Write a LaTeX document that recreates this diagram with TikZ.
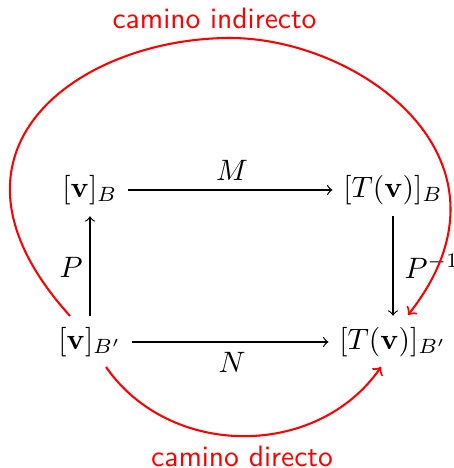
\documentclass[tikz,border=0pt]{standalone}
\usepackage{amsmath}
\begin{document}
\begin{tikzpicture}[x=0.339pt,y=-0.339pt,
  obj/.style={inner xsep=3.5pt, inner ysep=3.7pt},
  lab/.style={inner sep=0pt},
  redpath/.style={red, line width=0.7pt, ->},
  redlab/.style={red, font=\sffamily, inner sep=0pt}]
\useasboundingbox (0,0) rectangle (454,468);
\node[obj] (vB) at (90,190) {$[\mathbf{v}]_B$};
\node[obj] (TB) at (393,190) {$[T(\mathbf{v})]_B$};
\node[obj] (vBp) at (90,342) {$[\mathbf{v}]_{B'}$};
\node[obj] (TBp) at (393,342) {$[T(\mathbf{v})]_{B'}$};
\draw[->] (vB) -- (TB);
\draw[->] (vBp) -- (TBp);
\draw[->] (vBp) -- (vB);
\draw[->] (TB) -- (TBp);
\node[lab, anchor=base] (M) at (232,180) {$M$};
\node[lab, anchor=base] (N) at (232,372) {$N$};
\node[lab, anchor=base west] (P) at (59,277) {$P$};
\node[lab, anchor=base west] (Pi) at (404,278) {$P^{-1}$};
\coordinate (a1) at (70,316);
\coordinate (atop) at (230,38);
\coordinate (a2) at (408,315);
\draw[redpath] (a1) .. controls (-80,150) and (80,38) .. (atop) .. controls (360,38) and (530,160) .. (a2);
\coordinate (b1) at (106,367);
\coordinate (b2) at (381,367);
\draw[redpath] (b1) .. controls (170,459) and (317,459) .. (b2);
\node[redlab, anchor=base] (ci) at (214.5,28.3) {camino indirecto};
\node[redlab, anchor=base] (cd) at (242,466.5) {camino directo};
\end{tikzpicture}
\end{document}
